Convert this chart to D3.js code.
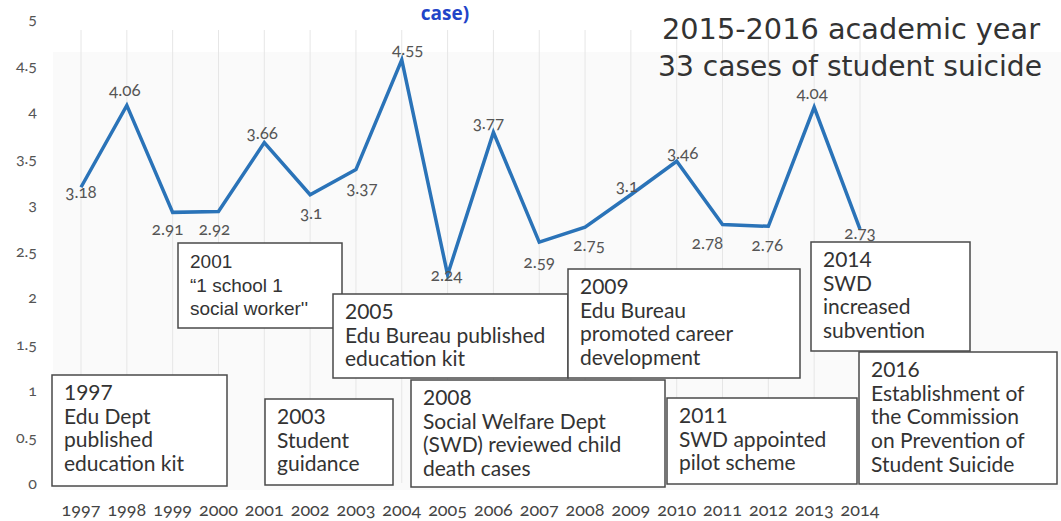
<!DOCTYPE html>
<html>
<head>
<meta charset="utf-8">
<script src="https://cdn.jsdelivr.net/npm/d3@7"></script>
<style>
  body { margin: 0; background: #ffffff; }
  svg { display: block; }
  .num { font-family: Lato, "Open Sans", sans-serif; font-variant-numeric: oldstyle-nums; font-feature-settings: "onum" 1; }
</style>
</head>
<body>
<div id="chart"></div>
<script>
// de data van de grafiek
var years = ["1997", "1998", "1999", "2000", "2001", "2002", "2003", "2004", "2005",
             "2006", "2007", "2008", "2009", "2010", "2011", "2012", "2013", "2014"];
var rates = [3.18, 4.06, 2.91, 2.92, 3.66, 3.1, 3.37, 4.55, 2.24,
             3.77, 2.59, 2.75, 3.1, 3.46, 2.78, 2.76, 4.04, 2.73];
var rateLabels = ["3.18", "4.06", "2.91", "2.92", "3.66", "3.1", "3.37", "4.55", "2.24",
                  "3.77", "2.59", "2.75", "3.1", "3.46", "2.78", "2.76", "4.04", "2.73"];
var yTicks = [0, 0.5, 1, 1.5, 2, 2.5, 3, 3.5, 4, 4.5, 5];

// teksten van de kaders
var noteTexts = [
  ["1997", "Edu Dept", "published", "education kit"],
  ["2001", "\u201c1 school 1", "social worker''"],
  ["2003", "Student", "guidance"],
  ["2005", "Edu Bureau published", "education kit"],
  ["2009", "Edu Bureau", "promoted career", "development"],
  ["2008", "Social Welfare Dept", "(SWD) reviewed child", "death cases"],
  ["2011", "SWD appointed", "pilot scheme"],
  ["2014", "SWD", "increased", "subvention"],
  ["2016", "Establishment of", "the Commission", "on Prevention of", "Student Suicide"]
];
var titleText = "case)";
var infoLines = ["2015-2016 academic year", "33 cases of student suicide"];

// layout (posities van labels en kaders), los van de data
var labelOffset = [[0, 5], [-2, -15], [-5, 17], [-4, 18], [-2, -10], [1, 18], [6, 18], [6, -11], [-1, 0],
                   [-5, -9], [0, 20], [4, 18], [-4, -9], [6, -8], [-15, 19], [-1, 19], [-2, -14], [0, 4]];
var noteBoxes = [
  {x0: 52, y0: 375, x1: 227, y1: 486, font: "Lato"},
  {x0: 178, y0: 243, x1: 342, y1: 328, font: "Liberation Sans"},
  {x0: 265, y0: 399, x1: 393, y1: 485, font: "Lato"},
  {x0: 333, y0: 294, x1: 568, y1: 378, font: "Lato"},
  {x0: 568, y0: 269, x1: 800, y1: 378, font: "Lato"},
  {x0: 411, y0: 380, x1: 665, y1: 487, font: "Lato"},
  {x0: 667, y0: 398, x1: 857, y1: 484, font: "Lato"},
  {x0: 811, y0: 242, x1: 970, y1: 351, font: "Lato"},
  {x0: 859, y0: 352, x1: 1057, y1: 484, font: "Lato"}
];

const width = 1061
const height = 521

var xScale = d3.scalePoint()
    .domain(years)
    .range([81, 860]);

var yScale = d3.scaleLinear()
    .domain([0, 5])
    .range([483, 18]);

var svg = d3.select("#chart")
    .append("svg")
    .attr("width", width)
    .attr("height", height);

// lichte achtergrond van het plotgebied
svg.append("rect")
    .attr("x", 53)
    .attr("y", 52)
    .attr("width", width - 53)
    .attr("height", 438)
    .attr("fill", "#fafafa");

// verticale rasterlijnen
svg.append("g")
    .selectAll("line")
    .data(years)
    .enter()
    .append("line")
    .attr("x1", function(d) { return xScale(d); })
    .attr("x2", function(d) { return xScale(d); })
    .attr("y1", 30)
    .attr("y2", yScale(0))
    .attr("stroke", "#e6e6e6")
    .attr("stroke-width", 1);

// y-as labels
svg.append("g")
    .selectAll("text")
    .data(yTicks)
    .enter()
    .append("text")
    .attr("class", "num")
    .attr("x", 37)
    .attr("y", function(d) { return yScale(d) + 6; })
    .attr("text-anchor", "end")
    .attr("font-size", "16px")
    .attr("fill", "#555")
    .text(function(d) { return d; });

// x-as labels
svg.append("g")
    .selectAll("text")
    .data(years)
    .enter()
    .append("text")
    .attr("class", "num")
    .attr("x", function(d) { return xScale(d); })
    .attr("y", 516)
    .attr("text-anchor", "middle")
    .attr("font-size", "18px")
    .attr("fill", "#444")
    .text(function(d) { return d; });

// de lijn
var line = d3.line()
    .x(function(d, i) { return xScale(years[i]); })
    .y(function(d) { return yScale(d); });

svg.append("path")
    .datum(rates)
    .attr("d", line)
    .attr("fill", "none")
    .attr("stroke", "#2a73b8")
    .attr("stroke-width", 3.5)
    .attr("stroke-linejoin", "miter");

// waarde labels
svg.append("g")
    .selectAll("text")
    .data(rates)
    .enter()
    .append("text")
    .attr("class", "num")
    .attr("x", function(d, i) { return xScale(years[i]) + labelOffset[i][0]; })
    .attr("y", function(d, i) { return yScale(d) + labelOffset[i][1]; })
    .attr("dy", "0.35em")
    .attr("text-anchor", "middle")
    .attr("font-size", "17px")
    .attr("fill", "#555")
    .text(function(d, i) { return rateLabels[i]; });

// kaders met gebeurtenissen
var notes = svg.append("g")
    .selectAll("g")
    .data(noteBoxes)
    .enter()
    .append("g");

notes.append("rect")
    .attr("x", function(d) { return d.x0; })
    .attr("y", function(d) { return d.y0; })
    .attr("width", function(d) { return d.x1 - d.x0; })
    .attr("height", function(d) { return d.y1 - d.y0; })
    .attr("fill", "#ffffff")
    .attr("stroke", "#4a4a4a")
    .attr("stroke-width", 1.5);

notes.each(function(d, i) {
  var isArial = d.font == "Liberation Sans";
  d3.select(this).selectAll("text")
      .data(noteTexts[i])
      .enter()
      .append("text")
      .attr("x", d.x0 + 12)
      .attr("y", function(t, j) { return d.y0 + 25 + j * 23.7; })
      .attr("font-family", d.font + ", sans-serif")
      .attr("font-size", isArial ? "19px" : "21px")
      .attr("fill", "#333")
      .text(function(t) { return t; });
});

// titel (bovenaan, half afgesneden in het origineel)
svg.append("text")
    .attr("x", 445)
    .attr("y", 20)
    .attr("text-anchor", "middle")
    .attr("font-family", "'Open Sans', sans-serif")
    .attr("font-weight", "bold")
    .attr("font-size", "19px")
    .attr("fill", "#2144c8")
    .text(titleText);

// tekst rechtsboven
svg.append("g")
    .selectAll("text")
    .data(infoLines)
    .enter()
    .append("text")
    .attr("x", function(d, i) { return i == 0 ? 662 : 658; })
    .attr("y", function(d, i) { return 39 + i * 37; })
    .attr("textLength", function(d, i) { return i == 0 ? 378 : 384; })
    .attr("lengthAdjust", "spacingAndGlyphs")
    .attr("font-family", "'DejaVu Sans', sans-serif")
    .attr("font-size", "29px")
    .attr("fill", "#333")
    .text(function(d) { return d; });
</script>
</body>
</html>
